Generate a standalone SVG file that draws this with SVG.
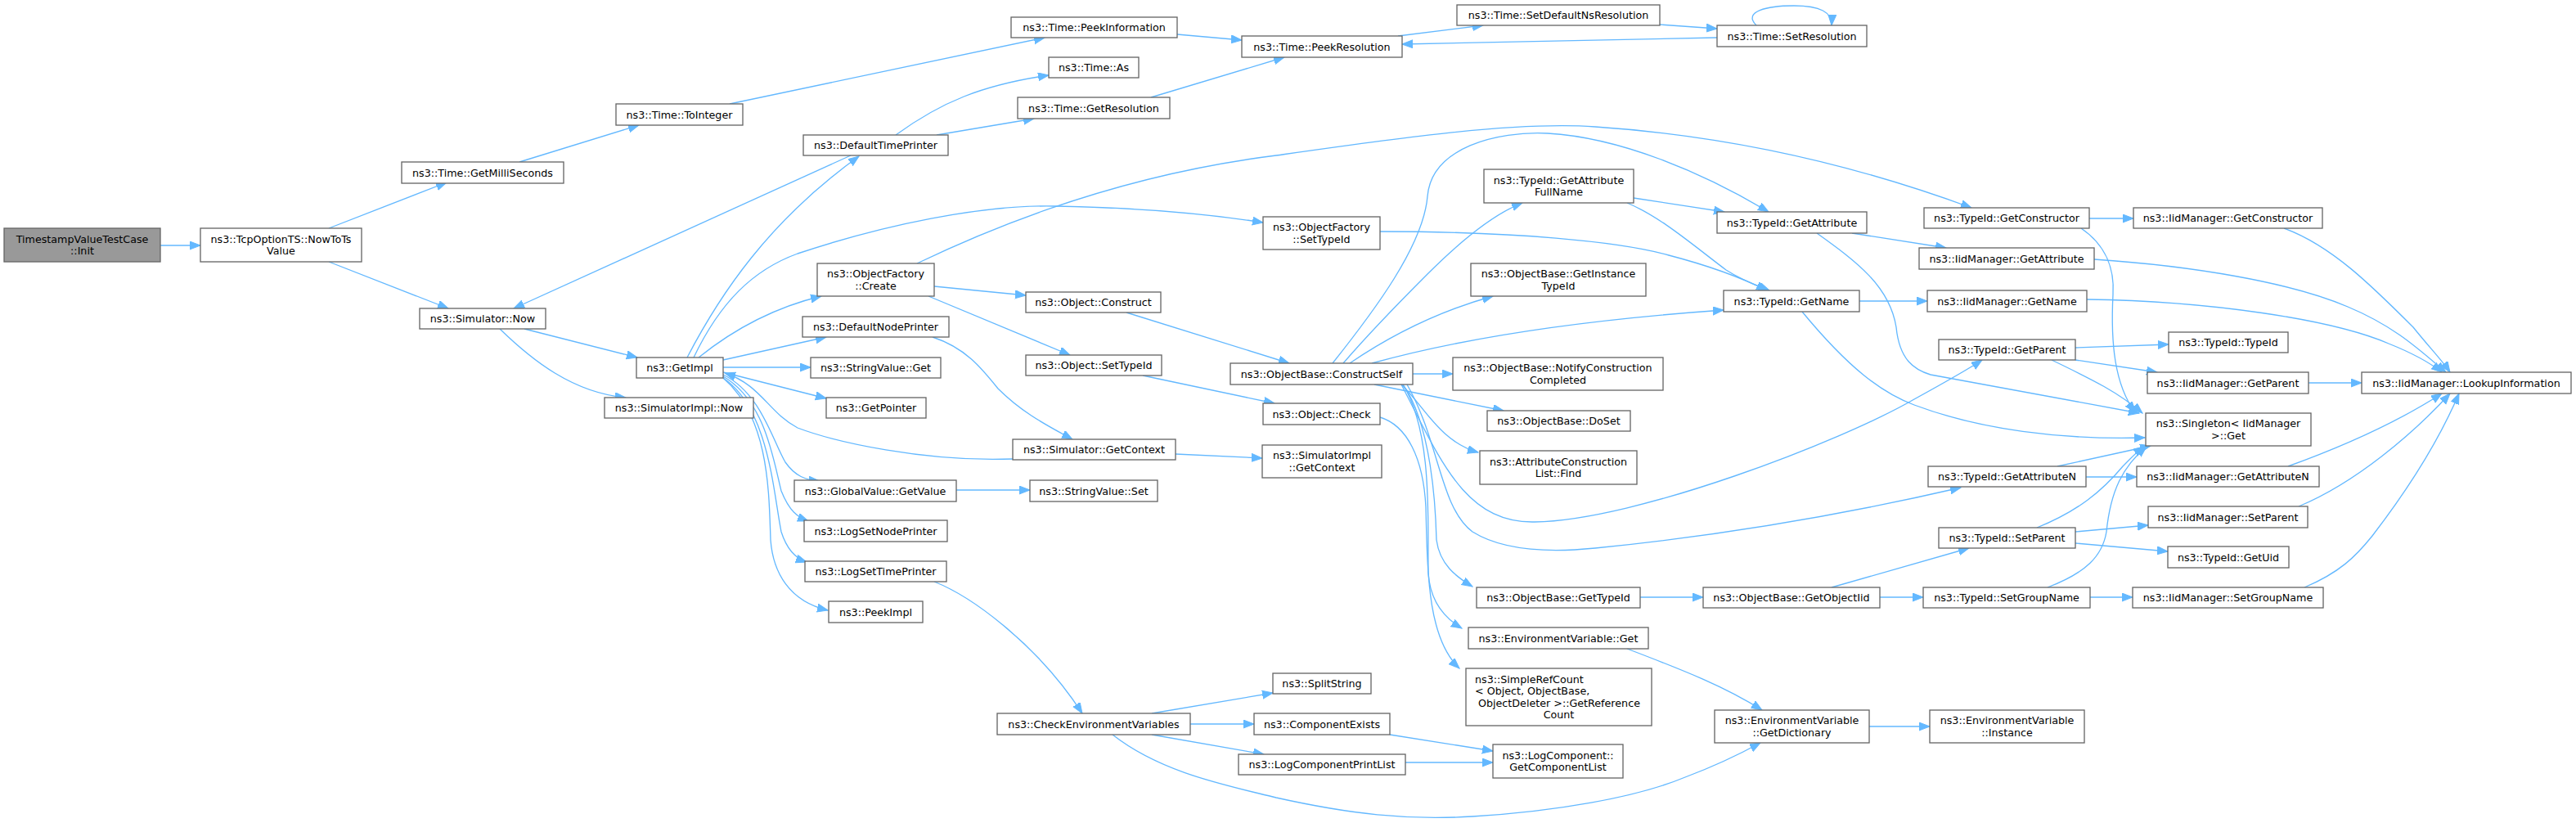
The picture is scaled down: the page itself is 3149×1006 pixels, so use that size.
<svg xmlns="http://www.w3.org/2000/svg" width="3149" height="1006" viewBox="0 0 3149 1006">
<style>
.n rect{fill:#ffffff;stroke:#666666;stroke-width:1.33}
.root rect{fill:#999999;stroke:#666666;stroke-width:1.33}
text{font-family:"DejaVu Sans","Liberation Sans",sans-serif;font-size:12.7px;text-anchor:middle;fill:#000000}
text.l{text-anchor:start}
#edges path{fill:none;stroke:#63b8ff;stroke-width:1.33;marker-end:url(#ah)}
</style>
<defs>
<marker id="ah" markerUnits="userSpaceOnUse" markerWidth="14" markerHeight="11" refX="13" refY="5" orient="auto">
<path d="M0,0 L13,5 L0,10 z" fill="#63b8ff" stroke="#63b8ff" stroke-width="1"/>
</marker>
</defs>
<rect x="0" y="0" width="3149" height="1006" fill="#ffffff"/>
<g id="edges">
<path d="M196,300 L245,300"/>
<path d="M402,279 L546,223"/>
<path d="M402,320 L548,377"/>
<path d="M635,198 L781,153"/>
<path d="M892,127 L1277,46"/>
<path d="M1040,190 L628,377"/>
<path d="M1095,165 C1150,125 1200,104 1282,92"/>
<path d="M1145,165 L1264,145"/>
<path d="M1407,119 C1470,100 1520,85 1570,70"/>
<path d="M1439,42 L1518,49"/>
<path d="M1709,44 L1813,31"/>
<path d="M2029,30 L2099,35"/>
<path d="M2099,46 L1714,54"/>
<path d="M2147,31 C2130,14 2160,7 2193,7 C2225,7 2240,15 2239,31"/>
<path d="M641,402 L779,437"/>
<path d="M611,402 C650,440 700,480 765,486"/>
<path d="M840,437 C880,360 940,270 1050,191"/>
<path d="M848,437 C880,370 920,330 975,310 C1080,275 1200,250 1290,252 C1400,254 1480,262 1544,272"/>
<path d="M854,437 C900,400 950,375 1004,362"/>
<path d="M884,440 L1010,412"/>
<path d="M884,449 L991,449"/>
<path d="M884,455 L1010,487"/>
<path d="M884,458 C930,480 945,540 960,565 C972,582 985,587 1002,588"/>
<path d="M884,460 C935,490 945,560 955,600 C965,625 975,632 988,637"/>
<path d="M884,462 C940,500 945,600 955,650 C962,672 974,683 986,687"/>
<path d="M884,462 C940,510 940,600 942,660 C945,700 965,735 1012,746"/>
<path d="M1238,561 C1130,565 1020,540 975,523 C940,505 930,470 886,456"/>
<path d="M1140,412 C1180,425 1200,450 1220,475 C1250,505 1280,520 1311,537"/>
<path d="M1142,350 L1254,361"/>
<path d="M1135,362 L1308,434"/>
<path d="M1377,382 L1576,444"/>
<path d="M1397,459 L1558,493"/>
<path d="M1437,555 L1543,560"/>
<path d="M1169,599 L1259,599"/>
<path d="M1142,711 C1190,730 1270,790 1323,872"/>
<path d="M1408,872 L1556,847"/>
<path d="M1455,885 L1533,885"/>
<path d="M1408,898 L1545,922"/>
<path d="M1360,898 C1420,945 1500,960 1560,975 C1650,995 1720,1003 1800,998 C1900,992 2000,975 2060,950 C2100,935 2130,920 2152,908"/>
<path d="M1121,322 C1250,260 1400,210 1560,190 C1700,170 1850,148 1950,155 C2100,165 2250,195 2410,254"/>
<path d="M1687,283 C1850,283 1980,295 2040,312 C2090,325 2130,340 2160,355"/>
<path d="M1989,248 C2030,265 2070,300 2110,330 C2130,343 2150,350 2163,355"/>
<path d="M1997,242 L2108,259"/>
<path d="M1629,444 C1680,380 1740,300 1745,240 C1750,180 1830,160 1892,163 C1980,168 2080,210 2162,259"/>
<path d="M1642,444 C1680,400 1720,360 1745,335 C1790,290 1830,260 1861,248"/>
<path d="M1650,444 C1700,410 1760,380 1825,362"/>
<path d="M1677,444 C1800,410 1950,390 2107,379"/>
<path d="M1727,457 L1776,457"/>
<path d="M1680,470 L1838,502"/>
<path d="M1713,470 C1740,495 1760,540 1807,553"/>
<path d="M1715,470 C1750,520 1755,620 1756,660 C1760,690 1780,705 1800,717"/>
<path d="M1715,470 C1752,530 1745,640 1746,700 C1748,735 1765,755 1787,768"/>
<path d="M1687,510 C1720,520 1740,560 1743,620 C1745,700 1745,780 1784,817"/>
<path d="M1713,470 C1760,560 1790,640 1876,638 C2000,636 2250,540 2340,488 C2380,466 2405,452 2423,440"/>
<path d="M1720,470 C1760,540 1760,620 1800,650 C1840,675 1900,675 1950,670 C2100,655 2250,630 2397,596"/>
<path d="M2273,368 L2356,368"/>
<path d="M2203,381 C2260,450 2300,480 2340,495 C2420,525 2520,538 2622,535"/>
<path d="M2264,285 L2379,303"/>
<path d="M2221,285 C2270,320 2310,350 2318,400 C2322,440 2340,452 2360,458 L2615,505"/>
<path d="M2554,267 L2608,267"/>
<path d="M2544,279 C2575,300 2585,330 2583,360 C2580,420 2585,470 2610,504"/>
<path d="M2792,279 C2850,300 2900,350 2950,400 C2970,425 2985,440 2995,455"/>
<path d="M2560,317 C2680,325 2800,345 2870,375 C2930,400 2960,430 2990,455"/>
<path d="M2551,366 C2700,368 2850,390 2920,420 C2950,432 2970,443 2985,455"/>
<path d="M2537,425 L2651,421"/>
<path d="M2537,440 L2637,455"/>
<path d="M2508,440 C2560,465 2590,480 2619,505"/>
<path d="M2822,468 L2887,468"/>
<path d="M2550,583 L2612,583"/>
<path d="M2515,570 L2629,545"/>
<path d="M2797,570 C2880,540 2940,510 2985,481"/>
<path d="M2810,619 C2880,590 2950,530 2995,481"/>
<path d="M2817,718 C2860,700 2880,680 2900,655 C2950,590 2985,530 3006,481"/>
<path d="M2537,650 L2626,642"/>
<path d="M2537,664 L2650,674"/>
<path d="M2490,645 C2540,625 2570,600 2595,570 C2605,560 2612,552 2621,546"/>
<path d="M2503,718 C2550,700 2570,680 2575,650 C2580,600 2595,570 2624,546"/>
<path d="M2239,718 L2407,670"/>
<path d="M2298,730 L2351,730"/>
<path d="M2555,730 L2607,730"/>
<path d="M2005,730 L2082,730"/>
<path d="M1989,793 C2060,820 2110,840 2154,868"/>
<path d="M2285,888 L2359,888"/>
<path d="M1699,898 L1825,918"/>
<path d="M1718,932 L1825,932"/>
</g>
<g id="node1" class="root"><rect x="5" y="279" width="191" height="41"/><text x="100.5" y="296.7">TimestampValueTestCase</text><text x="100.5" y="311.3">::Init</text></g>
<g id="node2" class="n"><rect x="245" y="279" width="197" height="41"/><text x="343.5" y="296.7">ns3::TcpOptionTS::NowToTs</text><text x="343.5" y="311.3">Value</text></g>
<g id="node3" class="n"><rect x="491" y="198" width="198" height="26"/><text x="590" y="215.5">ns3::Time::GetMilliSeconds</text></g>
<g id="node4" class="n"><rect x="753" y="127" width="155" height="26"/><text x="830.5" y="144.5">ns3::Time::ToInteger</text></g>
<g id="node5" class="n"><rect x="513" y="377" width="154" height="25"/><text x="590" y="394">ns3::Simulator::Now</text></g>
<g id="node6" class="n"><rect x="778" y="437" width="106" height="25"/><text x="831" y="454">ns3::GetImpl</text></g>
<g id="node7" class="n"><rect x="739" y="486" width="182" height="25"/><text x="830" y="503">ns3::SimulatorImpl::Now</text></g>
<g id="node8" class="n"><rect x="1236" y="21" width="203" height="25"/><text x="1337.5" y="38">ns3::Time::PeekInformation</text></g>
<g id="node9" class="n"><rect x="1282" y="70" width="110" height="25"/><text x="1337" y="87">ns3::Time::As</text></g>
<g id="node10" class="n"><rect x="1244" y="119" width="186" height="26"/><text x="1337" y="136.5">ns3::Time::GetResolution</text></g>
<g id="node11" class="n"><rect x="982" y="165" width="177" height="25"/><text x="1070.5" y="182">ns3::DefaultTimePrinter</text></g>
<g id="node12" class="n"><rect x="999" y="322" width="143" height="40"/><text x="1070.5" y="339.2">ns3::ObjectFactory</text><text x="1070.5" y="353.8">::Create</text></g>
<g id="node13" class="n"><rect x="981" y="387" width="179" height="25"/><text x="1070.5" y="404">ns3::DefaultNodePrinter</text></g>
<g id="node14" class="n"><rect x="991" y="437" width="159" height="25"/><text x="1070.5" y="454">ns3::StringValue::Get</text></g>
<g id="node15" class="n"><rect x="1010" y="486" width="122" height="25"/><text x="1071" y="503">ns3::GetPointer</text></g>
<g id="node16" class="n"><rect x="971" y="587" width="198" height="26"/><text x="1070" y="604.5">ns3::GlobalValue::GetValue</text></g>
<g id="node17" class="n"><rect x="983" y="636" width="175" height="26"/><text x="1070.5" y="653.5">ns3::LogSetNodePrinter</text></g>
<g id="node18" class="n"><rect x="984" y="686" width="173" height="25"/><text x="1070.5" y="703">ns3::LogSetTimePrinter</text></g>
<g id="node19" class="n"><rect x="1013" y="735" width="115" height="26"/><text x="1070.5" y="752.5">ns3::PeekImpl</text></g>
<g id="node20" class="n"><rect x="1219" y="872" width="236" height="26"/><text x="1337" y="889.5">ns3::CheckEnvironmentVariables</text></g>
<g id="node21" class="n"><rect x="1518" y="44" width="196" height="26"/><text x="1616" y="61.5">ns3::Time::PeekResolution</text></g>
<g id="node22" class="n"><rect x="1544" y="265" width="143" height="40"/><text x="1615.5" y="282.2">ns3::ObjectFactory</text><text x="1615.5" y="296.8">::SetTypeId</text></g>
<g id="node23" class="n"><rect x="1254" y="357" width="165" height="25"/><text x="1336.5" y="374">ns3::Object::Construct</text></g>
<g id="node24" class="n"><rect x="1254" y="434" width="166" height="25"/><text x="1337" y="451">ns3::Object::SetTypeId</text></g>
<g id="node25" class="n"><rect x="1238" y="537" width="199" height="25"/><text x="1337.5" y="554">ns3::Simulator::GetContext</text></g>
<g id="node26" class="n"><rect x="1259" y="587" width="156" height="26"/><text x="1337" y="604.5">ns3::StringValue::Set</text></g>
<g id="node27" class="n"><rect x="1504" y="444" width="223" height="26"/><text x="1615.5" y="461.5">ns3::ObjectBase::ConstructSelf</text></g>
<g id="node28" class="n"><rect x="1544" y="493" width="143" height="26"/><text x="1615.5" y="510.5">ns3::Object::Check</text></g>
<g id="node29" class="n"><rect x="1543" y="544" width="146" height="40"/><text x="1616" y="561.2">ns3::SimulatorImpl</text><text x="1616" y="575.8">::GetContext</text></g>
<g id="node30" class="n"><rect x="1556" y="823" width="120" height="25"/><text x="1616" y="840">ns3::SplitString</text></g>
<g id="node31" class="n"><rect x="1533" y="872" width="166" height="26"/><text x="1616" y="889.5">ns3::ComponentExists</text></g>
<g id="node32" class="n"><rect x="1514" y="922" width="204" height="25"/><text x="1616" y="939">ns3::LogComponentPrintList</text></g>
<g id="node33" class="n"><rect x="1781" y="6" width="248" height="25"/><text x="1905" y="23">ns3::Time::SetDefaultNsResolution</text></g>
<g id="node34" class="n"><rect x="2099" y="31" width="183" height="26"/><text x="2190.5" y="48.5">ns3::Time::SetResolution</text></g>
<g id="node35" class="n"><rect x="1814" y="207" width="183" height="41"/><text x="1905.5" y="224.7">ns3::TypeId::GetAttribute</text><text x="1905.5" y="239.3">FullName</text></g>
<g id="node36" class="n"><rect x="2099" y="259" width="183" height="26"/><text x="2190.5" y="276.5">ns3::TypeId::GetAttribute</text></g>
<g id="node37" class="n"><rect x="1798" y="322" width="214" height="40"/><text x="1905" y="339.2">ns3::ObjectBase::GetInstance</text><text x="1905" y="353.8">TypeId</text></g>
<g id="node38" class="n"><rect x="2107" y="355" width="166" height="26"/><text x="2190" y="372.5">ns3::TypeId::GetName</text></g>
<g id="node39" class="n"><rect x="1776" y="437" width="257" height="40"/><text x="1904.5" y="454.2">ns3::ObjectBase::NotifyConstruction</text><text x="1904.5" y="468.8">Completed</text></g>
<g id="node40" class="n"><rect x="1818" y="502" width="175" height="25"/><text x="1905.5" y="519">ns3::ObjectBase::DoSet</text></g>
<g id="node41" class="n"><rect x="1809" y="551" width="192" height="41"/><text x="1905" y="568.7">ns3::AttributeConstruction</text><text x="1905" y="583.3">List::Find</text></g>
<g id="node42" class="n"><rect x="1805" y="718" width="200" height="25"/><text x="1905" y="735">ns3::ObjectBase::GetTypeId</text></g>
<g id="node43" class="n"><rect x="2082" y="718" width="216" height="25"/><text x="2190" y="735">ns3::ObjectBase::GetObjectIid</text></g>
<g id="node44" class="n"><rect x="1795" y="767" width="220" height="26"/><text x="1905" y="784.5">ns3::EnvironmentVariable::Get</text></g>
<g id="node45" class="n"><rect x="1792" y="817" width="227" height="70"/><text class="l" x="1803" y="834.6">ns3::SimpleRefCount</text><text class="l" x="1803" y="849.2">&lt; Object, ObjectBase,</text><text class="l" x="1807" y="863.8">ObjectDeleter &gt;::GetReference</text><text x="1905.5" y="878.4">Count</text></g>
<g id="node46" class="n"><rect x="2096" y="868" width="189" height="40"/><text x="2190.5" y="885.2">ns3::EnvironmentVariable</text><text x="2190.5" y="899.8">::GetDictionary</text></g>
<g id="node47" class="n"><rect x="1825" y="910" width="159" height="41"/><text x="1904.5" y="927.7">ns3::LogComponent::</text><text x="1904.5" y="942.3">GetComponentList</text></g>
<g id="node48" class="n"><rect x="2352" y="254" width="202" height="25"/><text x="2453" y="271">ns3::TypeId::GetConstructor</text></g>
<g id="node49" class="n"><rect x="2608" y="254" width="231" height="25"/><text x="2723.5" y="271">ns3::IidManager::GetConstructor</text></g>
<g id="node50" class="n"><rect x="2346" y="303" width="214" height="26"/><text x="2453" y="320.5">ns3::IidManager::GetAttribute</text></g>
<g id="node51" class="n"><rect x="2356" y="355" width="195" height="26"/><text x="2453.5" y="372.5">ns3::IidManager::GetName</text></g>
<g id="node52" class="n"><rect x="2370" y="415" width="167" height="25"/><text x="2453.5" y="432">ns3::TypeId::GetParent</text></g>
<g id="node53" class="n"><rect x="2651" y="406" width="146" height="25"/><text x="2724" y="423">ns3::TypeId::TypeId</text></g>
<g id="node54" class="n"><rect x="2625" y="455" width="197" height="26"/><text x="2723.5" y="472.5">ns3::IidManager::GetParent</text></g>
<g id="node55" class="n"><rect x="2887" y="455" width="256" height="26"/><text x="3015" y="472.5">ns3::IidManager::LookupInformation</text></g>
<g id="node56" class="n"><rect x="2623" y="505" width="202" height="40"/><text x="2724" y="522.2">ns3::Singleton&lt; IidManager</text><text x="2724" y="536.8">&gt;::Get</text></g>
<g id="node57" class="n"><rect x="2357" y="570" width="193" height="25"/><text x="2453.5" y="587">ns3::TypeId::GetAttributeN</text></g>
<g id="node58" class="n"><rect x="2612" y="570" width="223" height="25"/><text x="2723.5" y="587">ns3::IidManager::GetAttributeN</text></g>
<g id="node59" class="n"><rect x="2626" y="619" width="195" height="26"/><text x="2723.5" y="636.5">ns3::IidManager::SetParent</text></g>
<g id="node60" class="n"><rect x="2370" y="645" width="167" height="25"/><text x="2453.5" y="662">ns3::TypeId::SetParent</text></g>
<g id="node61" class="n"><rect x="2650" y="668" width="148" height="26"/><text x="2724" y="685.5">ns3::TypeId::GetUid</text></g>
<g id="node62" class="n"><rect x="2351" y="718" width="204" height="25"/><text x="2453" y="735">ns3::TypeId::SetGroupName</text></g>
<g id="node63" class="n"><rect x="2607" y="718" width="233" height="25"/><text x="2723.5" y="735">ns3::IidManager::SetGroupName</text></g>
<g id="node64" class="n"><rect x="2359" y="868" width="189" height="40"/><text x="2453.5" y="885.2">ns3::EnvironmentVariable</text><text x="2453.5" y="899.8">::Instance</text></g>
</svg>
